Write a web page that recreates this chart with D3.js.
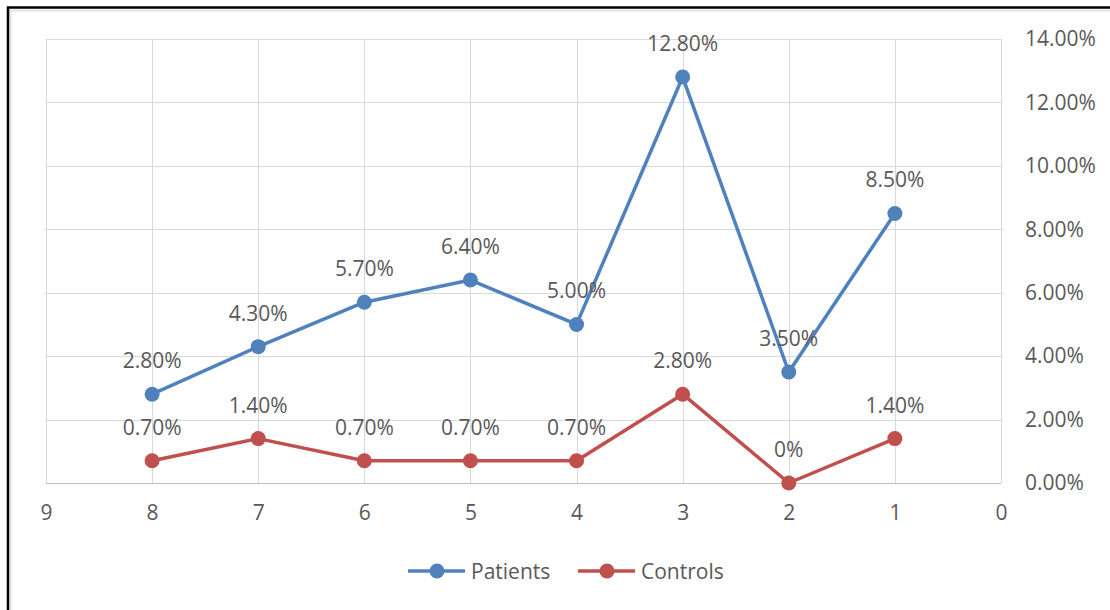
<!DOCTYPE html>
<html>
<head>
<meta charset="utf-8">
<script src="https://cdn.jsdelivr.net/npm/d3@7/dist/d3.min.js"></script>
<style>
  html, body { margin: 0; padding: 0; background: #fff; }
  svg { display: block; }
  text { font-family: "Open Sans", "Noto Sans", sans-serif; fill: #595959; }
</style>
</head>
<body>
<svg id="chart" width="1110" height="610"></svg>
<script>
// Ranks on the horizontal axis (reversed: 9 on the left, 0 on the right)
const ranks = [8, 7, 6, 5, 4, 3, 2, 1];
// Share of each group, in percent
const patients = [2.8, 4.3, 5.7, 6.4, 5.0, 12.8, 3.5, 8.5];
const controls = [0.7, 1.4, 0.7, 0.7, 0.7, 2.8, 0.0, 1.4];
// Label text for each point
const patientLabels = ["2.80%", "4.30%", "5.70%", "6.40%", "5.00%", "12.80%", "3.50%", "8.50%"];
const controlLabels = ["0.70%", "1.40%", "0.70%", "0.70%", "0.70%", "2.80%", "0%", "1.40%"];
// Axis ticks
const xTicks = [9, 8, 7, 6, 5, 4, 3, 2, 1, 0];
const yTicks = [0, 2, 4, 6, 8, 10, 12, 14];
const seriesNames = ["Patients", "Controls"];
const seriesColors = ["#4f81bd", "#c0504d"];

const FONT = "21px";
const svg = d3.select("#chart");
const W = 1110, H = 610;

// Outer frame (only top and left edges fall inside the view)
svg.append("rect")
  .attr("x", 10.5).attr("y", 10.5).attr("width", W + 20).attr("height", H + 20)
  .attr("fill", "none").attr("stroke", "#e3e3e3").attr("stroke-width", 2);
svg.append("rect")
  .attr("x", 8).attr("y", 7.5).attr("width", W + 20).attr("height", H + 20)
  .attr("fill", "none").attr("stroke", "#000").attr("stroke-width", 2.5);

const x = d3.scaleLinear().domain([9, 0]).range([46, 1001]);
const y = d3.scaleLinear().domain([0, 14]).range([483, 39]);

// Gridlines
const grid = svg.append("g");
grid.selectAll("line.v").data(xTicks).join("line")
  .attr("x1", d => Math.round(x(d)) + 0.5).attr("x2", d => Math.round(x(d)) + 0.5)
  .attr("y1", y(14)).attr("y2", y(0))
  .attr("stroke", "#d9d9d9").attr("stroke-width", 1);
grid.selectAll("line.h").data(yTicks).join("line")
  .attr("x1", x(9)).attr("x2", x(0))
  .attr("y1", d => Math.round(y(d)) + 0.5).attr("y2", d => Math.round(y(d)) + 0.5)
  .attr("stroke", d => d === 0 ? "#bfbfbf" : "#d9d9d9").attr("stroke-width", 1);

// Bottom axis labels
const xAxis = d3.axisBottom(x).tickValues(xTicks).tickSize(0).tickPadding(22);
const gx = svg.append("g").attr("transform", `translate(0,${y(0)})`).call(xAxis);
gx.select(".domain").remove();
gx.selectAll("text").style("font-size", FONT).attr("fill", "#595959")
  .style("font-family", "'Open Sans', 'Noto Sans', sans-serif");

// Right axis labels (left aligned next to the plot)
const yAxis = d3.axisRight(y).tickValues(yTicks).tickSize(0).tickPadding(24)
  .tickFormat(d => d3.format(".2f")(d) + "%");
const gy = svg.append("g").attr("transform", `translate(${x(0)},0)`).call(yAxis);
gy.select(".domain").remove();
gy.selectAll("text").style("font-size", FONT).attr("fill", "#595959")
  .style("font-family", "'Open Sans', 'Noto Sans', sans-serif");

// Series
const series = [
  { name: seriesNames[0], values: patients, labels: patientLabels, color: seriesColors[0] },
  { name: seriesNames[1], values: controls, labels: controlLabels, color: seriesColors[1] }
];
const line = d3.line().x(d => x(d.r)).y(d => y(d.v));

series.forEach(s => {
  const pts = ranks.map((r, i) => ({ r, v: s.values[i], label: s.labels[i] }));
  const g = svg.append("g");
  g.append("path").datum(pts).attr("d", line)
    .attr("fill", "none").attr("stroke", s.color).attr("stroke-width", 3.5)
    .attr("stroke-linejoin", "round");
  g.selectAll("circle").data(pts).join("circle")
    .attr("cx", d => x(d.r)).attr("cy", d => y(d.v)).attr("r", 7.5)
    .attr("fill", s.color);
  g.selectAll("text").data(pts).join("text")
    .attr("x", d => x(d.r)).attr("y", d => y(d.v) - 26)
    .attr("text-anchor", "middle").style("font-size", FONT)
    .text(d => d.label);
});

// Legend
const legend = svg.append("g");
const legendItems = [
  { name: seriesNames[0], color: seriesColors[0], x0: 408 },
  { name: seriesNames[1], color: seriesColors[1], x0: 578 }
];
legendItems.forEach(it => {
  legend.append("line").attr("x1", it.x0).attr("x2", it.x0 + 57)
    .attr("y1", 571).attr("y2", 571)
    .attr("stroke", it.color).attr("stroke-width", 3.5);
  legend.append("circle").attr("cx", it.x0 + 29).attr("cy", 571).attr("r", 7.5)
    .attr("fill", it.color);
  legend.append("text").attr("x", it.x0 + 63).attr("y", 578.5)
    .style("font-size", FONT).text(it.name);
});
</script>
</body>
</html>
